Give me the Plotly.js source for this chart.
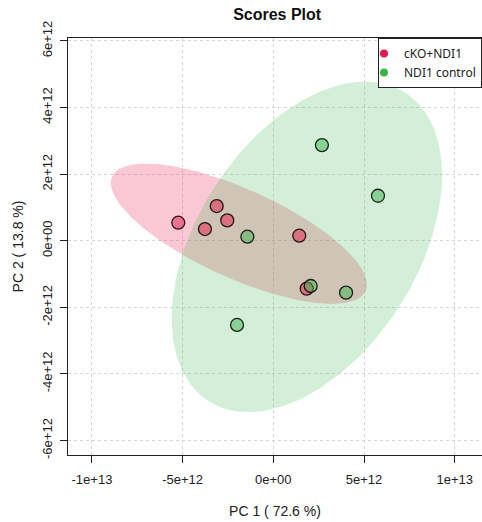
<!DOCTYPE html>
<html><head><meta charset="utf-8">
<script src="https://cdn.plot.ly/plotly-3.0.1.min.js"></script>
<style>html,body{margin:0;padding:0;overflow:hidden;background:#fff}</style>
</head><body><div id="chart" style="width:482px;height:522px"></div>
<script>
// Group names
const groupNames = ["cKO+NDI1", "NDI1 control"];
// PC scores, cKO+NDI1
const koPC1 = [-5.24e12, -3.77e12, -3.12e12, -2.54e12, 1.43e12, 1.84e12];
const koPC2 = [0.54e12, 0.35e12, 1.04e12, 0.61e12, 0.15e12, -1.44e12];
// PC scores, NDI1 control
const ctlPC1 = [-1.43e12, 2.06e12, 4.01e12, 5.77e12, 2.68e12, -2.00e12];
const ctlPC2 = [0.12e12, -1.36e12, -1.56e12, 1.35e12, 2.87e12, -2.53e12];
// Tick values / labels
const xTickVals = [-1e13, -5e12, 0, 5e12, 1e13];
const xTickText = ["-1e+13", "-5e+12", "0e+00", "5e+12", "1e+13"];
const yTickVals = [-6e12, -4e12, -2e12, 0, 2e12, 4e12, 6e12];
const yTickText = ["-6e+12", "-4e+12", "-2e+12", "0e+00", "2e+12", "4e+12", "6e+12"];

// 95% confidence ellipse from group scores
function confEllipse(xs, ys, level, npts) {
  const n = xs.length;
  const mx = xs.reduce((a, b) => a + b, 0) / n;
  const my = ys.reduce((a, b) => a + b, 0) / n;
  let sxx = 0, syy = 0, sxy = 0;
  for (let i = 0; i < n; i++) {
    sxx += (xs[i] - mx) ** 2; syy += (ys[i] - my) ** 2; sxy += (xs[i] - mx) * (ys[i] - my);
  }
  sxx /= (n - 1); syy /= (n - 1); sxy /= (n - 1);
  const t = Math.sqrt(-2 * Math.log(1 - level));
  const l11 = Math.sqrt(sxx), l21 = sxy / l11, l22 = Math.sqrt(syy - l21 * l21);
  const ex = [], ey = [];
  for (let k = 0; k <= npts; k++) {
    const a = 2 * Math.PI * k / npts;
    ex.push(mx + t * l11 * Math.cos(a));
    ey.push(my + t * (l21 * Math.cos(a) + l22 * Math.sin(a)));
  }
  return [ex, ey];
}
const koEl = confEllipse(koPC1, koPC2, 0.95, 200);
const ctlEl = confEllipse(ctlPC1, ctlPC2, 0.95, 200);

const red = "230,25,75", green = "60,180,75";
const traces = [
  {x: koEl[0], y: koEl[1], type: "scatter", mode: "lines", fill: "toself",
   fillcolor: `rgba(${red},0.24)`, line: {width: 0}, showlegend: false, hoverinfo: "skip"},
  {x: ctlEl[0], y: ctlEl[1], type: "scatter", mode: "lines", fill: "toself",
   fillcolor: `rgba(${green},0.22)`, line: {width: 0}, showlegend: false, hoverinfo: "skip"},
  {x: koPC1, y: koPC2, type: "scatter", mode: "markers", showlegend: false,
   marker: {size: 13, color: `rgba(${red},0.5)`, line: {color: "rgba(0,0,0,0.85)", width: 1.3}}},
  {x: ctlPC1, y: ctlPC2, type: "scatter", mode: "markers", showlegend: false,
   marker: {size: 13, color: `rgba(${green},0.5)`, line: {color: "rgba(0,0,0,0.85)", width: 1.3}}},
  {x: [null], y: [null], type: "scatter", mode: "markers", name: groupNames[0],
   marker: {size: 8, color: `rgb(${red})`}},
  {x: [null], y: [null], type: "scatter", mode: "markers", name: groupNames[1],
   marker: {size: 8, color: `rgb(${green})`}}
];

const axFont = {family: "Liberation Sans, Arial, sans-serif", size: 13, color: "#222"};
const layout = {
  width: 482, height: 522,
  margin: {l: 68, r: 0, t: 38, b: 67},
  paper_bgcolor: "#fff", plot_bgcolor: "#fff",
  title: {text: "<b>Scores Plot</b>", x: 0.575, xanchor: "center", y: 0.972, yanchor: "middle",
          font: {family: "Liberation Sans, Arial, sans-serif", size: 16, color: "#111"}},
  xaxis: {range: [-1.132e13, 1.1505e13], tickvals: xTickVals, ticktext: xTickText,
          showline: true, linecolor: "#222", linewidth: 1, mirror: true,
          ticks: "outside", ticklen: 7, tickcolor: "#222", ticklabelstandoff: 5,
          showgrid: true, gridcolor: "#d6d6d6", griddash: "dot", gridwidth: 1,
          zeroline: false, tickfont: axFont,
          title: {text: "PC 1 ( 72.6 %)", font: {family: "Liberation Sans, Arial, sans-serif", size: 14, color: "#222"}, standoff: 20}},
  yaxis: {range: [-6.436e12, 6.087e12], tickvals: yTickVals, ticktext: yTickText,
          showline: true, linecolor: "#222", linewidth: 1, mirror: false,
          ticks: "outside", ticklen: 7, tickcolor: "#222", tickangle: -90, ticklabelstandoff: 3,
          showgrid: true, gridcolor: "#d6d6d6", griddash: "dot", gridwidth: 1,
          zeroline: false, tickfont: axFont,
          title: {text: "PC 2 ( 13.8 %)", font: {family: "Liberation Sans, Arial, sans-serif", size: 14, color: "#222"}, standoff: 12}},
  legend: {x: 1, xanchor: "right", y: 1, yanchor: "top", bgcolor: "#fff",
           bordercolor: "#222", borderwidth: 1, indentation: -15,
           font: {family: "Noto Sans, sans-serif", size: 12, color: "#222"},
           itemwidth: 30, tracegroupgap: 0},
  showlegend: true
};
Plotly.newPlot("chart", traces, layout, {displayModeBar: false, staticPlot: true});
</script></body></html>
